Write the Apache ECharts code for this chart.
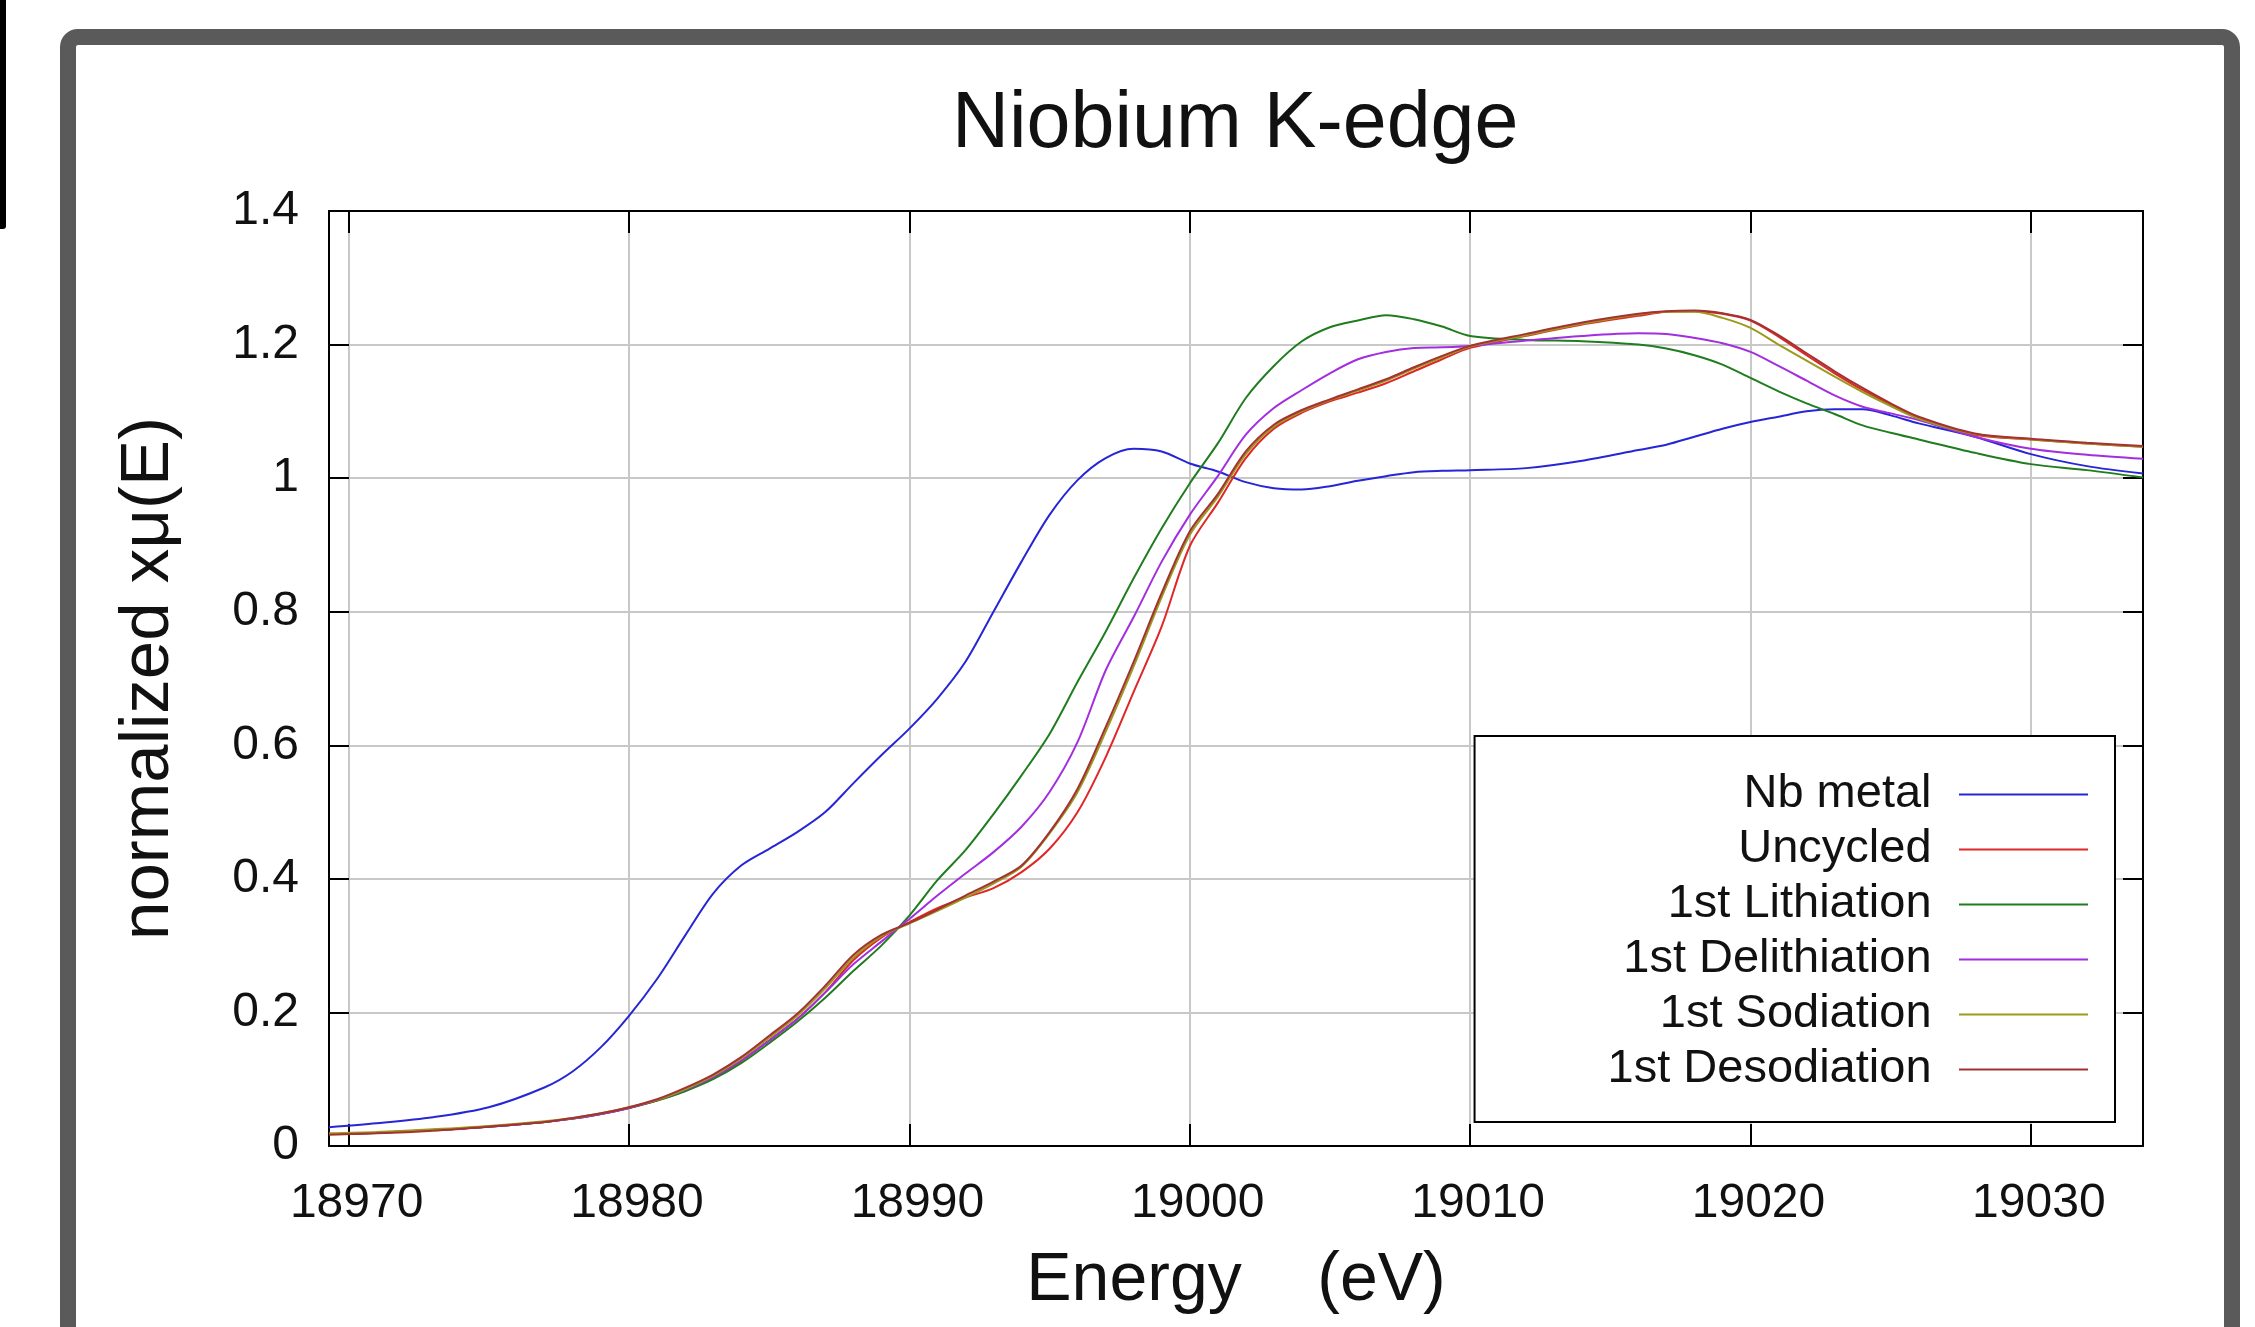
<!DOCTYPE html>
<html>
<head>
<meta charset="utf-8">
<script src="https://cdn.jsdelivr.net/npm/echarts@6/dist/echarts.min.js"></script>
<style>
html,body{margin:0;padding:0;background:#fff;}
#chart{width:2255px;height:1327px;}
</style>
</head>
<body>
<div id="chart"></div>
<script>
// ---- data ----
const energy = [18969.3, 18971, 18973, 18975, 18977, 18978, 18979, 18980, 18981, 18982,
  18983, 18984, 18985, 18986, 18987, 18988, 18989, 18990, 18991, 18992,
  18993, 18994, 18995, 18996, 18997, 18998, 18999, 19000, 19001, 19002,
  19003, 19004, 19005, 19006, 19007, 19008, 19009, 19010, 19012, 19014,
  19016, 19017, 19018, 19019, 19020, 19021, 19022, 19023, 19024, 19025,
  19026, 19028, 19030, 19032, 19034];

const nbMetal = [0.028, 0.034, 0.043, 0.058, 0.088, 0.112, 0.148, 0.195, 0.250, 0.315,
  0.378, 0.420, 0.445, 0.470, 0.500, 0.543, 0.585, 0.625, 0.670, 0.725,
  0.800, 0.875, 0.945, 0.997, 1.030, 1.044, 1.040, 1.022, 1.010, 0.994,
  0.985, 0.983, 0.988, 0.996, 1.003, 1.009, 1.011, 1.012, 1.015, 1.026,
  1.042, 1.050, 1.062, 1.074, 1.084, 1.092, 1.100, 1.103, 1.103, 1.094,
  1.082, 1.062, 1.036, 1.018, 1.007];

const uncycled = [0.018, 0.020, 0.024, 0.029, 0.036, 0.041, 0.048, 0.057, 0.068, 0.083,
  0.102, 0.127, 0.158, 0.190, 0.230, 0.278, 0.312, 0.335, 0.356, 0.372,
  0.386, 0.410, 0.445, 0.500, 0.582, 0.680, 0.778, 0.898, 0.963, 1.030,
  1.074, 1.098, 1.115, 1.128, 1.142, 1.160, 1.178, 1.195, 1.213, 1.230,
  1.243, 1.249, 1.250, 1.246, 1.236, 1.212, 1.184, 1.157, 1.132, 1.110,
  1.090, 1.065, 1.058, 1.052, 1.047];

const lithiation = [0.018, 0.020, 0.024, 0.029, 0.036, 0.041, 0.048, 0.057, 0.068, 0.082,
  0.100, 0.124, 0.154, 0.186, 0.222, 0.262, 0.300, 0.345, 0.398, 0.443,
  0.497, 0.555, 0.617, 0.695, 0.770, 0.850, 0.925, 0.992, 1.052, 1.120,
  1.168, 1.205, 1.226, 1.236, 1.244, 1.238, 1.227, 1.213, 1.207, 1.205,
  1.200, 1.194, 1.184, 1.170, 1.150, 1.130, 1.112, 1.096, 1.079, 1.068,
  1.058, 1.038, 1.021, 1.012, 1.001];

const delithiation = [0.018, 0.020, 0.024, 0.029, 0.036, 0.041, 0.048, 0.057, 0.069, 0.084,
  0.103, 0.128, 0.158, 0.190, 0.230, 0.272, 0.306, 0.340, 0.375, 0.408,
  0.440, 0.478, 0.530, 0.605, 0.712, 0.792, 0.875, 0.945, 1.003, 1.065,
  1.105, 1.132, 1.157, 1.178, 1.189, 1.195, 1.196, 1.198, 1.206, 1.213,
  1.217, 1.216, 1.210, 1.202, 1.189, 1.168, 1.146, 1.124, 1.107, 1.097,
  1.087, 1.062, 1.044, 1.035, 1.029];

const sodiation = [0.019, 0.021, 0.025, 0.030, 0.037, 0.042, 0.049, 0.058, 0.069, 0.085,
  0.105, 0.131, 0.162, 0.195, 0.236, 0.282, 0.314, 0.333, 0.352, 0.372,
  0.393, 0.418, 0.468, 0.530, 0.620, 0.718, 0.822, 0.915, 0.972, 1.036,
  1.077, 1.100, 1.117, 1.131, 1.146, 1.164, 1.181, 1.197, 1.214, 1.231,
  1.245, 1.249, 1.249, 1.240, 1.225, 1.200, 1.176, 1.152, 1.129, 1.108,
  1.089, 1.066, 1.058, 1.052, 1.047];

const desodiation = [0.017, 0.019, 0.023, 0.029, 0.036, 0.042, 0.049, 0.058, 0.070, 0.087,
  0.107, 0.133, 0.165, 0.198, 0.240, 0.286, 0.316, 0.334, 0.354, 0.375,
  0.396, 0.420, 0.470, 0.535, 0.627, 0.725, 0.828, 0.920, 0.976, 1.040,
  1.080, 1.102, 1.118, 1.133, 1.148, 1.166, 1.183, 1.198, 1.216, 1.233,
  1.246, 1.250, 1.251, 1.247, 1.237, 1.214, 1.187, 1.160, 1.135, 1.112,
  1.092, 1.067, 1.059, 1.053, 1.048];

const seriesNames = ['Nb metal', 'Uncycled', '1st Lithiation', '1st Delithiation', '1st Sodiation', '1st Desodiation'];
const seriesValues = [nbMetal, uncycled, lithiation, delithiation, sodiation, desodiation];
const xTicks = [18970, 18980, 18990, 19000, 19010, 19020, 19030];
const xTickLabels = ['18970', '18980', '18990', '19000', '19010', '19020', '19030'];
const titleText = 'Niobium K-edge';
const xName = 'Energy    (eV)';
const yName = 'normalized x\u03bc(E)';

// ---- styles ----
const colors = ['#2626d6', '#e02626', '#1f7d1f', '#a22ee0', '#9c9a1c', '#a33232'];
const FONT = "'Liberation Sans', Arial, sans-serif";
const X_MIN = 18969.3, X_MAX = 19034;

const chart = echarts.init(document.getElementById('chart'), null, {renderer: 'canvas'});

const series = seriesNames.map((name, i) => ({
  name: name,
  type: 'line',
  symbol: 'none',
  smooth: 0.3,
  xAxisIndex: 0,
  yAxisIndex: 0,
  lineStyle: {color: colors[i], width: 2},
  itemStyle: {color: colors[i]},
  data: energy.map((e, k) => [e, seriesValues[i][k]])
}));

const tickLine = {color: '#000', width: 2};

chart.setOption({
  backgroundColor: '#ffffff',
  animation: false,
  title: {
    text: titleText,
    left: 952,
    top: 86,
    padding: 0,
    textStyle: {fontFamily: FONT, fontSize: 79, fontWeight: 'normal', color: '#111'}
  },
  grid: {left: 329, right: 112, top: 211, bottom: 181, containLabel: false},
  legend: {
    data: seriesNames,
    orient: 'vertical',
    align: 'right',
    right: 140,
    top: 736,
    padding: [35, 27, 29, 133],
    itemGap: 8,
    itemWidth: 129,
    itemHeight: 2,
    icon: 'rect',
    backgroundColor: '#ffffff',
    borderColor: '#000',
    borderWidth: 2,
    borderRadius: 0,
    formatter: name => name + ' \u2009',
    textStyle: {fontFamily: FONT, fontSize: 47, color: '#111'}
  },
  xAxis: [{
    type: 'value',
    position: 'bottom',
    min: X_MIN, max: X_MAX,
    axisLine: {show: true, onZero: false, lineStyle: tickLine},
    axisTick: {show: true, inside: true, length: 22, lineStyle: tickLine, customValues: xTicks},
    axisLabel: {
      show: true, margin: 34, customValues: xTicks,
      padding: [0, 0, 0, 16],
      formatter: v => xTickLabels[xTicks.indexOf(v)] ?? String(v),
      fontFamily: FONT, fontSize: 48, color: '#111'
    },
    splitLine: {show: true, lineStyle: {color: '#c8c8c8', width: 2}},
    name: xName,
    nameLocation: 'middle',
    nameGap: 101,
    nameTextStyle: {fontFamily: FONT, fontSize: 68, color: '#111'}
  }, {
    type: 'value',
    position: 'top',
    min: X_MIN, max: X_MAX,
    axisLine: {show: true, onZero: false, lineStyle: tickLine},
    axisTick: {show: true, inside: true, length: 22, lineStyle: tickLine, customValues: xTicks},
    axisLabel: {show: false, customValues: xTicks},
    splitLine: {show: false}
  }],
  yAxis: [{
    type: 'value',
    position: 'left',
    min: 0, max: 1.4, interval: 0.2,
    axisLine: {show: true, onZero: false, lineStyle: tickLine},
    axisTick: {show: true, inside: true, length: 20, lineStyle: tickLine},
    axisLabel: {show: true, margin: 30, fontFamily: FONT, fontSize: 48, color: '#111'},
    splitLine: {show: true, lineStyle: {color: '#c8c8c8', width: 2}},
    name: yName,
    nameLocation: 'middle',
    nameRotate: 90,
    nameGap: 146,
    nameTextStyle: {fontFamily: FONT, fontSize: 69, color: '#111'}
  }, {
    type: 'value',
    position: 'right',
    min: 0, max: 1.4, interval: 0.2,
    axisLine: {show: true, onZero: false, lineStyle: tickLine},
    axisTick: {show: true, inside: true, length: 20, lineStyle: tickLine},
    axisLabel: {show: false},
    splitLine: {show: false}
  }],
  graphic: [
    {type: 'rect', silent: true, z: 100,
     shape: {x: 0, y: 0, width: 6, height: 229, r: [0, 0, 3, 0]},
     style: {fill: '#000'}},
    {type: 'rect', silent: true, z: 100,
     shape: {x: 68, y: 37, width: 2164, height: 1400, r: 10},
     style: {fill: 'none', stroke: '#5a5a5a', lineWidth: 16}}
  ],
  series: series
});
</script>
</body>
</html>
